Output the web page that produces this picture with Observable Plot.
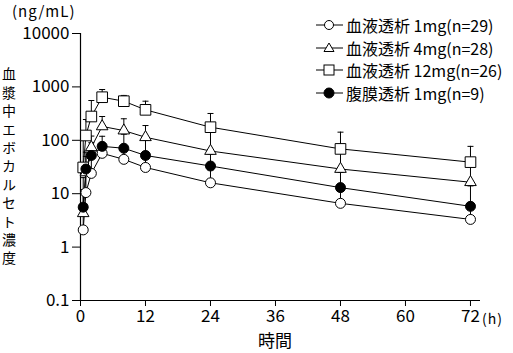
<!DOCTYPE html>
<html>
<head>
<meta charset="utf-8">
<script src="https://cdn.jsdelivr.net/npm/d3@7"></script>
<script src="https://cdn.jsdelivr.net/npm/@observablehq/plot@0.6"></script>
<style>
  html, body { margin: 0; padding: 0; background: #fff; }
  #wrap { position: relative; width: 513px; height: 353px; font-family: "Noto Sans CJK JP", "Noto Sans", sans-serif; color: #000; }
  #wrap svg { display: block; }
  .ov { position: absolute; white-space: nowrap; line-height: 1; }
  .leg { position: absolute; left: 316px; display: flex; align-items: center; font-size: 16px; line-height: 1; }
  .leg svg { margin-right: 3px; }
</style>
</head>
<body>
<div id="wrap"></div>
<script>
// ---- data ----
const times = [0.5, 1, 2, 4, 8, 12, 24, 48, 72];

const seriesNames = ["血液透析 1mg(n=29)", "血液透析 4mg(n=28)", "血液透析 12mg(n=26)", "腹膜透析 1mg(n=9)"];

const hd1   = [2.1, 10.5, 24, 57, 44, 31, 16, 6.6, 3.3];
const hd1Up = [5, 22, 45, 80, 65, 48, 28, 11, 5];

const hd4   = [4.3, 25, 74, 182, 152, 114, 63, 29, 16.4];
const hd4Up = [20, 60, 120, 279, 253, 189, 150, 60, 35];

const hd12   = [31, 123, 279, 641, 540, 372, 176, 69, 39];
const hd12Up = [100, 245, 556, 893, 692, 540, 318, 142, 77];

const pd1   = [5.6, 29, 52, 77, 71, 52, 33, 13, 5.8];
const pd1Up = [12, 50, 90, 119, 130, 100, 55, 25, 14];

const yTicks = [0.1, 1, 10, 100, 1000, 10000];
const xTicks = [0, 12, 24, 36, 48, 60, 72];

// ---- build table ----
const groups = [
  {name: seriesNames[0], v: hd1, up: hd1Up},
  {name: seriesNames[1], v: hd4, up: hd4Up},
  {name: seriesNames[2], v: hd12, up: hd12Up},
  {name: seriesNames[3], v: pd1, up: pd1Up}
];
const rows = groups.flatMap(g => times.map((t, i) => ({series: g.name, t, v: g.v[i], up: g.up[i]})));
const bySeries = name => rows.filter(r => r.series === name);

const capSymbol = { draw(ctx) { ctx.moveTo(-3, 0); ctx.lineTo(3, 0); } };

const chart = Plot.plot({
  width: 513,
  height: 353,
  marginLeft: 80,
  marginRight: 33,
  marginTop: 33,
  marginBottom: 53,
  style: { fontFamily: '"Noto Sans CJK JP", sans-serif', color: "#000", background: "#fff" },
  x: { domain: [0, 73.85] },
  y: { type: "log", domain: [0.1, 10000] },
  marks: [
    Plot.axisY({ ticks: yTicks, tickFormat: d => String(d), tickSize: 8, tickPadding: 3, fontSize: 17, label: null, stroke: "#000" }),
    Plot.axisX({ ticks: xTicks, tickFormat: d => String(d), tickSize: 6, tickPadding: 3, fontSize: 17, label: null, stroke: "#000" }),
    Plot.ruleX([0], { stroke: "#000", strokeWidth: 1.2 }),
    Plot.ruleY([0.1], { stroke: "#000", strokeWidth: 1.2 }),
    Plot.line(rows, { x: "t", y: "v", z: "series", stroke: "#000", strokeWidth: 1 }),
    Plot.ruleX(rows, { x: "t", y1: "v", y2: "up", stroke: "#000", strokeWidth: 1 }),
    Plot.dot(rows, { x: "t", y: "up", symbol: capSymbol, stroke: "#000", strokeWidth: 1, fill: "none" }),
    Plot.dot(bySeries(seriesNames[2]), { x: "t", y: "v", symbol: "square", r: 6, fill: "#fff", stroke: "#000", strokeWidth: 1 }),
    Plot.dot(bySeries(seriesNames[1]), { x: "t", y: "v", symbol: "triangle", r: 4.3, fill: "#fff", stroke: "#000", strokeWidth: 1 }),
    Plot.dot(bySeries(seriesNames[0]), { x: "t", y: "v", symbol: "circle", r: 5, fill: "#fff", stroke: "#000", strokeWidth: 1 }),
    Plot.dot(bySeries(seriesNames[3]), { x: "t", y: "v", symbol: "circle", r: 5, fill: "#000", stroke: "#000", strokeWidth: 1 })
  ]
});

const wrap = document.getElementById("wrap");
wrap.appendChild(chart);

function addText(txt, css) {
  const d = document.createElement("div");
  d.className = "ov";
  d.textContent = txt;
  Object.assign(d.style, css);
  wrap.appendChild(d);
  return d;
}

addText("(ng/mL)", { left: "12px", top: "3px", fontSize: "15px", letterSpacing: "1px" });
addText("血漿中エボカルセト濃度", { left: "2px", top: "67px", fontSize: "14px", writingMode: "vertical-rl", letterSpacing: "4.4px" });
addText("時間", { left: "258px", top: "331px", fontSize: "17px" });
addText("(h)", { left: "482px", top: "311px", fontSize: "14px", letterSpacing: "1px" });

// legend
const icons = [
  '<circle cx="13" cy="8" r="4.5" fill="#fff" stroke="#000"/>',
  '<path d="M13,3 L18,11.5 L8,11.5 Z" fill="#fff" stroke="#000"/>',
  '<rect x="8" y="3" width="10" height="10" fill="#fff" stroke="#000"/>',
  '<circle cx="13" cy="8" r="5" fill="#000" stroke="#000"/>'
];
const legTops = [17, 39.5, 62, 84.5];
seriesNames.forEach((name, i) => {
  const row = document.createElement("div");
  row.className = "leg";
  row.style.top = legTops[i] + "px";
  row.innerHTML = '<svg width="27" height="16"><line x1="0" x2="27" y1="8" y2="8" stroke="#000"/>' + icons[i] + '</svg><span>' + name + '</span>';
  wrap.appendChild(row);
});
</script>
</body>
</html>
